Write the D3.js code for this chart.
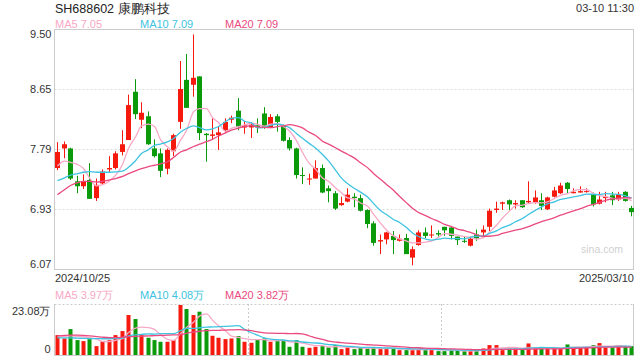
<!DOCTYPE html>
<html><head><meta charset="utf-8">
<script src="https://cdn.jsdelivr.net/npm/d3@7"></script>
<style>
body{margin:0;background:#fff;}
svg{display:block;font-family:"Liberation Sans",Arial,sans-serif;}
</style></head><body>
<svg id="c" width="640" height="360"></svg>
<script>
// ---------- data ----------
const title = "SH688602 康鹏科技";
const stamp = "03-10 11:30";
const dates = [
"2024/10/25","2024/10/28","2024/10/29","2024/10/30","2024/10/31",
"2024/11/01","2024/11/04","2024/11/05","2024/11/06","2024/11/07","2024/11/08","2024/11/11","2024/11/12","2024/11/13","2024/11/14","2024/11/15","2024/11/18","2024/11/19","2024/11/20","2024/11/21","2024/11/22","2024/11/25","2024/11/26","2024/11/27","2024/11/28","2024/11/29",
"2024/12/02","2024/12/03","2024/12/04","2024/12/05","2024/12/06","2024/12/09","2024/12/10","2024/12/11","2024/12/12","2024/12/13","2024/12/16","2024/12/17","2024/12/18","2024/12/19","2024/12/20","2024/12/23","2024/12/24","2024/12/25","2024/12/26","2024/12/27","2024/12/30","2024/12/31",
"2025/01/02","2025/01/03","2025/01/06","2025/01/07","2025/01/08","2025/01/09","2025/01/10","2025/01/13","2025/01/14","2025/01/15","2025/01/16","2025/01/17","2025/01/20","2025/01/21","2025/01/22","2025/01/23","2025/01/24","2025/01/27",
"2025/02/05","2025/02/06","2025/02/07","2025/02/10","2025/02/11","2025/02/12","2025/02/13","2025/02/14","2025/02/17","2025/02/18","2025/02/19","2025/02/20","2025/02/21","2025/02/24","2025/02/25","2025/02/26","2025/02/27","2025/02/28",
"2025/03/03","2025/03/04","2025/03/05","2025/03/06","2025/03/07","2025/03/10"];
const open = [7.52,7.80,7.80,7.33,7.26,7.35,7.09,7.30,7.50,7.52,7.75,7.92,8.61,8.21,8.26,7.80,7.73,7.51,7.76,8.18,8.78,8.71,8.83,8.01,7.98,7.99,8.06,8.21,8.34,8.10,8.10,8.13,8.30,8.10,8.26,8.12,7.92,7.80,7.42,7.36,7.37,7.52,7.23,7.16,6.99,7.04,7.11,7.09,6.92,6.73,6.47,6.50,6.55,6.48,6.52,6.24,6.42,6.60,6.56,6.59,6.68,6.67,6.54,6.48,6.41,6.57,6.60,6.68,6.92,7.01,7.06,7.00,7.06,7.03,7.03,7.06,6.93,7.11,7.16,7.31,7.16,7.17,7.18,7.15,7.01,7.09,7.13,7.07,7.18,6.95];
const high = [7.89,7.90,7.81,7.41,7.43,7.59,7.37,7.50,7.69,7.76,8.06,8.57,8.79,8.46,8.33,7.93,7.80,7.80,8.01,9.05,9.15,9.43,8.83,8.02,8.23,8.12,8.23,8.27,8.52,8.19,8.17,8.23,8.39,8.29,8.29,8.14,7.96,7.81,7.53,7.44,7.63,7.57,7.27,7.19,7.11,7.23,7.16,7.14,6.93,6.76,6.57,6.61,6.62,6.57,6.58,6.40,6.63,6.67,6.70,6.63,6.68,6.68,6.54,6.54,6.54,6.64,6.70,6.94,7.04,7.04,7.07,7.06,7.06,7.33,7.20,7.16,7.11,7.25,7.31,7.32,7.23,7.26,7.23,7.17,7.18,7.18,7.18,7.18,7.19,6.98];
const low = [7.49,7.66,7.35,7.16,7.22,7.08,7.05,7.28,7.46,7.50,7.70,7.92,8.22,8.09,7.85,7.67,7.39,7.43,7.69,8.08,8.38,8.54,7.92,7.61,7.93,7.78,8.02,8.16,8.06,8.01,7.95,8.02,8.08,8.09,8.04,7.90,7.77,7.37,7.29,7.28,7.37,7.16,7.03,6.92,6.98,7.03,6.96,6.90,6.66,6.41,6.29,6.43,6.29,6.47,6.29,6.13,6.41,6.52,6.52,6.54,6.55,6.50,6.42,6.45,6.40,6.48,6.54,6.62,6.88,6.92,6.92,6.94,6.95,7.02,7.01,6.92,6.92,7.10,7.15,7.16,7.16,7.17,7.17,6.97,7.00,7.03,6.99,7.05,7.04,6.83];
const close = [7.75,7.86,7.37,7.26,7.33,7.08,7.28,7.47,7.52,7.73,7.86,8.42,8.29,8.31,7.86,7.69,7.48,7.78,7.99,8.65,8.38,8.81,8.02,7.99,8.00,8.03,8.18,8.24,8.11,8.13,8.14,8.10,8.11,8.25,8.18,7.91,7.80,7.42,7.41,7.37,7.52,7.17,7.19,6.94,7.02,7.14,7.09,6.91,6.72,6.45,6.49,6.60,6.49,6.51,6.29,6.36,6.60,6.55,6.57,6.57,6.63,6.55,6.49,6.47,6.51,6.51,6.64,6.91,6.94,7.03,7.00,7.02,6.96,7.05,7.10,6.98,7.10,7.20,7.27,7.22,7.18,7.19,7.19,7.00,7.07,7.11,7.06,7.15,7.05,6.89];
// volume in 万 (10k shares)
const volume = [9.14,7.64,11.84,6.90,6.45,7.35,4.20,6.45,6.90,9.14,10.94,18.14,16.34,9.14,7.94,6.90,6.15,6.15,6.90,22.63,20.84,18.14,19.64,11.84,8.84,7.94,7.35,7.64,8.69,6.15,5.70,7.20,7.64,6.15,6.45,6.45,3.90,6.90,3.90,3.45,3.90,4.20,3.60,4.65,2.85,3.60,2.85,3.45,3.45,3.45,2.85,2.85,3.45,2.40,2.40,2.40,2.85,2.85,2.85,1.95,1.95,2.40,2.40,1.95,1.95,1.95,3.15,4.65,4.65,2.40,3.10,3.10,3.10,5.40,3.10,3.10,3.10,3.20,3.45,4.95,3.55,3.55,3.65,4.65,5.55,3.55,3.55,4.65,3.90,4.20];
// moving-average values before enough bars are in view
const ma5Head = [7.55,7.62,7.60,7.57];
const ma10Head = [7.34,7.38,7.42,7.44,7.46,7.47,7.46,7.46,7.46];
const ma20Head = [7.14,7.21,7.27,7.31,7.33,7.33,7.32,7.33,7.35,7.37,7.40,7.44,7.48,7.51,7.54,7.56,7.58,7.61,7.67];
const vma5Head = [8.4,8.6,8.8,8.6];
const vma10Head = [7.9,7.9,7.9,7.8,7.7,7.6,7.6,7.5,7.5];
const vma20Head = [8.8,9.0,9.1,9.1,9.0,8.8,8.5,8.2,8.0,8.0,8.2,8.4,8.6,8.7,8.8,8.9,9.0,9.1,9.2];
const priceTicks = [9.50,8.65,7.79,6.93,6.07];
const volTicks = [0,23.08];
const dateTicks = ["2024/10/25","2025/03/10"];
const maNames = ["MA5","MA10","MA20"];

// ---------- helpers ----------
function movingAvg(arr, n, head){
  return arr.map((v,i)=> i < n-1 ? head[i] : d3.mean(arr.slice(i-n+1,i+1)));
}
const ma = [movingAvg(close,5,ma5Head), movingAvg(close,10,ma10Head), movingAvg(close,20,ma20Head)];
const vma = [movingAvg(volume,5,vma5Head), movingAvg(volume,10,vma10Head), movingAvg(volume,20,vma20Head)];
const maColors = ["#f7a8c6","#3ec3e0","#ea4a80"];
const UP = "#f5190e", DOWN = "#0a9a0a";

const svg = d3.select("#c");
const L = 54.5, R = 633.5, T = 29.5, B = 269.5, VT = 304, VB = 355.5;

const x = d3.scaleBand().domain(dates).range([54, 634.5]);
const cx = d => Math.round(x(d) + x.bandwidth()/2);
const y = d3.scaleLinear().domain([6.07, 9.50]).range([B, T]);
const yv = d3.scaleLinear().domain([0, 23.08]).range([VB, VT]);

// ---------- text header ----------
svg.append("text").attr("x",55).attr("y",12.5).attr("font-size",12.5).attr("fill","#222").text(title);
svg.append("text").attr("x",634).attr("y",12).attr("text-anchor","end").attr("font-size",11).attr("fill","#333").text(stamp);

const lastMa = ma.map(a=>a[a.length-1]);
const lastVma = vma.map(a=>a[a.length-1]);
const legX = [55,140,225];
maNames.forEach((n,i)=>{
  svg.append("text").attr("x",legX[i]).attr("y",28).attr("font-size",11).attr("fill",maColors[i])
    .text(n+" "+d3.format(".2f")(lastMa[i]));
  svg.append("text").attr("x",legX[i]).attr("y",299).attr("font-size",11).attr("fill",maColors[i])
    .text(n+" "+d3.format(".2f")(lastVma[i])+"万");
});

// ---------- price panel ----------
const gridG = svg.append("g");
priceTicks.slice(1,-1).forEach(t=>{
  gridG.append("line").attr("x1",L).attr("x2",R).attr("y1",Math.round(y(t))+0.5).attr("y2",Math.round(y(t))+0.5)
   .attr("stroke","#ddd").attr("stroke-dasharray","2,2");
});
svg.append("rect").attr("x",L).attr("y",T).attr("width",R-L).attr("height",B-T)
  .attr("fill","none").attr("stroke","#ccc");

const yAxis = svg.append("g").attr("transform",`translate(${L-3},0)`)
  .call(d3.axisLeft(y).tickValues(priceTicks).tickSize(0).tickFormat(d3.format(".2f")));
yAxis.select(".domain").remove();
yAxis.selectAll("text").attr("font-size",11).attr("fill","#333").attr("font-family","Liberation Sans, Arial, sans-serif")
  .attr("dy", (d,i)=> i===0 ? "0.75em" : (i===priceTicks.length-1 ? "-0.2em" : "0.32em"))
  .attr("y",0).attr("x",0);

// watermark
svg.append("text").attr("x",623).attr("y",253).attr("text-anchor","end").attr("font-size",10.5).attr("fill","#d0d0d0").text("sina.com");

// candles
const cg = svg.append("g");
dates.forEach((d,i)=>{
  const up = close[i] >= open[i];
  const col = up ? UP : DOWN;
  const xc = cx(d);
  cg.append("line").attr("x1",xc+0.5).attr("x2",xc+0.5).attr("y1",y(high[i])).attr("y2",y(low[i])).attr("stroke",col);
  const top = y(Math.max(open[i],close[i])), bot = y(Math.min(open[i],close[i]));
  cg.append("rect").attr("x",xc-2).attr("width",5).attr("y",top).attr("height",Math.max(1,bot-top)).attr("fill",col);
});

// MA lines
const lineP = d3.line().x((v,i)=>cx(dates[i])+0.5).y(v=>y(v)).curve(d3.curveMonotoneX);
ma.forEach((a,k)=>{
  svg.append("path").attr("d",lineP(a)).attr("fill","none").attr("stroke",maColors[k]).attr("stroke-width",1.3);
});

// dates
svg.append("text").attr("x",55).attr("y",281.5).attr("font-size",11).attr("fill","#333").text(dateTicks[0]);
svg.append("text").attr("x",634).attr("y",281.5).attr("text-anchor","end").attr("font-size",11).attr("fill","#333").text(dateTicks[1]);

// ---------- volume panel ----------
svg.append("line").attr("x1",L).attr("x2",R).attr("y1",VT+0.5).attr("y2",VT+0.5).attr("stroke","#ccc").attr("stroke-dasharray","2,2");
[1,2].forEach(k=>{
  const xx = Math.round(L + (R-L)*k/3)+0.5;
  svg.append("line").attr("x1",xx).attr("x2",xx).attr("y1",VT).attr("y2",VB).attr("stroke","#ccc").attr("stroke-dasharray","2,2");
});
svg.append("line").attr("x1",L).attr("x2",L).attr("y1",VT).attr("y2",VB).attr("stroke","#ccc");
svg.append("line").attr("x1",R).attr("x2",R).attr("y1",VT).attr("y2",VB).attr("stroke","#ccc");

const vg = svg.append("g");
dates.forEach((d,i)=>{
  const up = close[i] >= open[i];
  const xc = cx(d);
  vg.append("rect").attr("x",xc-1.5).attr("width",4).attr("y",yv(volume[i])).attr("height",VB-yv(volume[i]))
    .attr("fill", up?UP:DOWN);
});
const lineV = d3.line().x((v,i)=>cx(dates[i])+0.5).y(v=>yv(v)).curve(d3.curveMonotoneX);
vma.forEach((a,k)=>{
  svg.append("path").attr("d",lineV(a)).attr("fill","none").attr("stroke",maColors[k]).attr("stroke-width",1.3);
});
svg.append("line").attr("x1",L).attr("x2",R).attr("y1",VB).attr("y2",VB).attr("stroke","#ccc");

const vAxis = svg.append("g").attr("transform",`translate(${L-4},0)`)
  .call(d3.axisLeft(yv).tickValues(volTicks).tickSize(0).tickFormat(d=> d===0 ? "0" : d3.format(".2f")(d)+"万"));
vAxis.select(".domain").remove();
vAxis.selectAll("text").attr("font-size",11).attr("fill","#333").attr("font-family","Liberation Sans, Arial, sans-serif")
  .attr("x",0).attr("y",0).attr("dy",(d)=> d===0 ? "-0.3em" : "0.95em");
</script>
</body></html>
